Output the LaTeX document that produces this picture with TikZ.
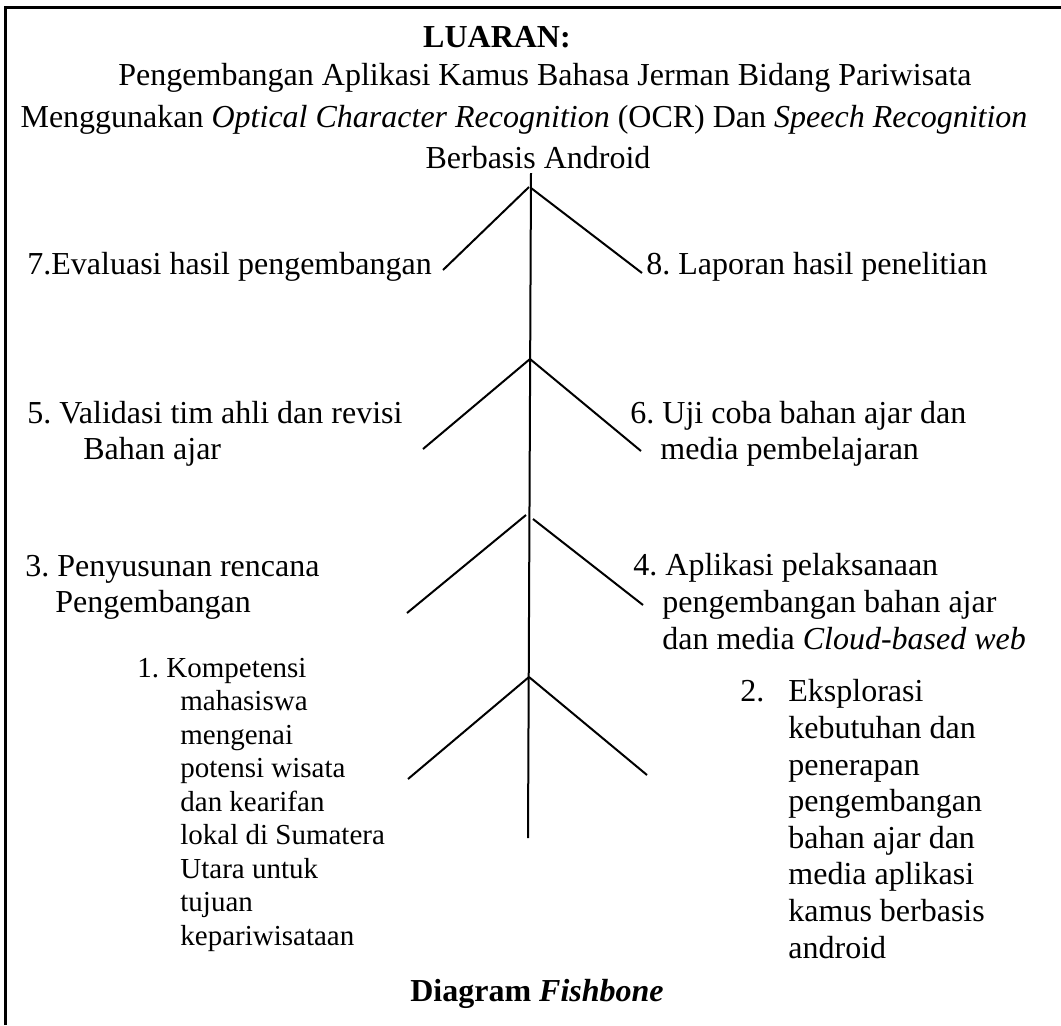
\documentclass[tikz,border=0pt]{standalone}
\usepackage{fontspec}
\setmainfont{Liberation Serif}
\frenchspacing

\tikzset{
    bone/.style={line width=1pt},
    frame/.style={line width=1.5pt},
    ttl/.style={anchor=base, inner sep=0pt, font=\fontsize{16}{20}\selectfont},
    lbl/.style={anchor=base west, inner sep=0pt, align=left, font=\fontsize{16}{18}\selectfont},
}

\begin{document}
\begin{tikzpicture}[x=0.5pt,y=-0.5pt]
    \useasboundingbox (0,0) rectangle (1061,1025);

%   \foreach \i in {0,100,...,1000} {
%       \draw [very thin,gray] (\i,0) -- (\i,1025)  ;
%       \draw [very thin,gray] (0,\i) -- (1061,\i) ;
%   }

    % open frame: top and left side only
    \coordinate (fbl) at (5,1025);
    \coordinate (ftl) at (5,7);
    \coordinate (ftr) at (1061,7);
    \draw [frame] (fbl) -- (ftl) -- (ftr);

    \node [ttl,font=\fontsize{16}{20}\selectfont\bfseries] (luaran) at (497,47) {LUARAN:};
    \node [ttl] (judulA) at (545,85) {Pengembangan Aplikasi Kamus Bahasa Jerman Bidang Pariwisata};
    \node [ttl] (judulB) at (524,127) {Menggunakan \textit{Optical Character Recognition} (OCR) Dan \textit{Speech Recognition}};
    \node [ttl] (judulC) at (538,168) {Berbasis Android};

    % spine
    \coordinate (head) at (531,173);
    \coordinate (tail) at (528,838);
    \draw [bone] (head) -- (tail);

    % bones
    \foreach \k/\la/\lb/\lc/\ld/\ra/\rb/\rc/\rd in {
        1/529/187/443/270/531/188/642/273,
        2/530/359/423/449/530/359/641/451,
        3/526/515/407/613/533/519/643/605,
        4/529/677/408/779/529/677/647/775} {
        \coordinate (lt\k) at (\la,\lb);
        \coordinate (le\k) at (\lc,\ld);
        \coordinate (rt\k) at (\ra,\rb);
        \coordinate (re\k) at (\rc,\rd);
        \draw [bone] (lt\k) -- (le\k);
        \draw [bone] (rt\k) -- (re\k);
    }

    % labels: base = baseline of the last line
    \node [lbl] (tujuh) at (27,274) {7.Evaluasi hasil pengembangan};
    \node [lbl] (delapan) at (646,274) {8. Laporan hasil penelitian};

    \node [lbl] (lima) at (27,459) {5. Validasi tim ahli dan revisi\\\hspace*{28pt}Bahan ajar};
    \node [lbl] (enam) at (630,459) {6. Uji coba bahan ajar dan\\\hspace*{15pt}media pembelajaran};

    \node [lbl] (tiga) at (25,612) {3. Penyusunan rencana\\\hspace*{15pt}Pengembangan};
    \node [lbl,font=\fontsize{16}{18.5}\selectfont] (empat) at (633,649) {4. Aplikasi pelaksanaan\\\hspace*{14.5pt}pengembangan bahan ajar\\\hspace*{14.5pt}dan media \textit{Cloud-based web}};

    \node [lbl,font=\fontsize{14.5}{16.75}\selectfont] (satu) at (137,945) {1. Kompetensi\\
        \hspace*{21.5pt}mahasiswa\\
        \hspace*{21.5pt}mengenai\\
        \hspace*{21.5pt}potensi wisata\\
        \hspace*{21.5pt}dan kearifan\\
        \hspace*{21.5pt}lokal di Sumatera\\
        \hspace*{21.5pt}Utara untuk\\
        \hspace*{21.5pt}tujuan\\
        \hspace*{21.5pt}kepariwisataan};

    \node [lbl,font=\fontsize{16}{18.3}\selectfont] (dua) at (740,958) {\makebox[24pt][l]{2.}Eksplorasi\\
        \hspace*{24pt}kebutuhan dan\\
        \hspace*{24pt}penerapan\\
        \hspace*{24pt}pengembangan\\
        \hspace*{24pt}bahan ajar dan\\
        \hspace*{24pt}media aplikasi\\
        \hspace*{24pt}kamus berbasis\\
        \hspace*{24pt}android};

    \node [ttl,font=\fontsize{16}{20}\selectfont\bfseries] (judulD) at (537,1001) {Diagram \textit{Fishbone}};

\end{tikzpicture}
\end{document}
